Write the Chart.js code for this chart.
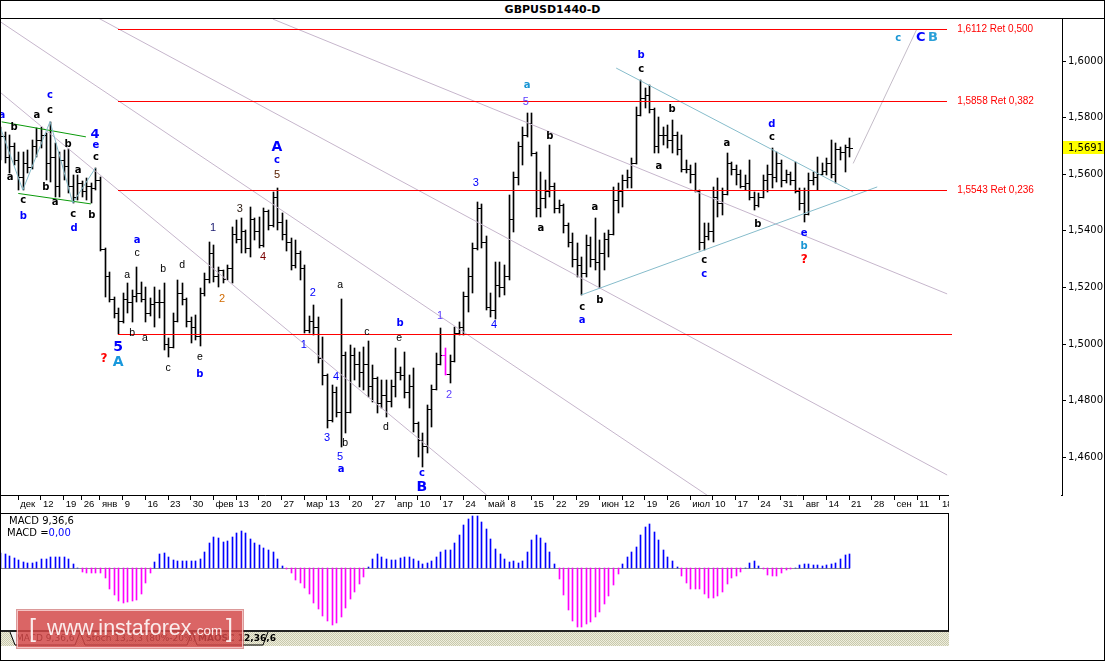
<!DOCTYPE html>
<html><head><meta charset="utf-8">
<script src="https://cdn.jsdelivr.net/npm/chart.js@4.4.0/dist/chart.umd.min.js"></script>
<style>
html,body{margin:0;padding:0;background:#fff;}
#root{position:relative;width:1105px;height:661px;overflow:hidden;background:#fff;}
.abs{position:absolute;}
#frame{left:0;top:0;width:1105px;height:661px;box-sizing:border-box;border:1px solid #000;pointer-events:none;z-index:30;}
#title{left:0;top:1px;width:1105px;height:17px;text-align:center;font:bold 11px "DejaVu Sans";line-height:17px;color:#000;}
#sep{left:0;top:18px;width:1105px;height:1px;background:#000;}
#main{left:0;top:19px;}
#mask{left:949px;top:495px;width:112px;height:18px;background:#fff;z-index:5;}
#macd{left:0;top:513px;}
#macdBox{left:0;top:513px;width:949px;height:119px;box-sizing:border-box;border-top:1px solid #000;border-right:1px solid #000;border-bottom:2px solid #222;pointer-events:none;z-index:6;}
.mtxt{font:10px "DejaVu Sans";color:#000;white-space:nowrap;z-index:7;}
#tabs{left:1px;top:632px;width:948px;height:14px;background:repeating-conic-gradient(#c9c9ad 0 25%,#eeeedd 0 50%) 0 0/2px 2px;z-index:6;}
.tab{font:9px "DejaVu Sans";color:#000;white-space:nowrap;top:1px;}
#wm{left:17px;top:610px;width:226px;height:38px;box-sizing:border-box;background:rgba(211,72,72,0.84);border:1px solid rgba(255,235,235,0.7);box-shadow:0 0 0 1px rgba(190,70,70,0.55);z-index:10;color:#fbecec;font-family:"Liberation Sans",sans-serif;white-space:nowrap;}
</style></head>
<body><div id="root">
<div id="title" class="abs">GBPUSD1440-D</div>
<div id="sep" class="abs"></div>
<canvas id="main" class="abs" width="1105" height="494"></canvas>
<div id="mask" class="abs"></div>
<canvas id="macd" class="abs" width="949" height="117"></canvas>
<div id="macdBox" class="abs"></div>
<div class="abs mtxt" style="left:9px;top:515px;">MACD 9,36,6</div>
<div class="abs mtxt" style="left:7px;top:527px;">MACD =<span style="color:#0000ff">0,00</span></div>
<div id="tabs" class="abs">
  <svg width="948" height="14" style="position:absolute;left:0;top:0">
    <polyline points="9,0 14,13 74,13 79,0" fill="#f4f4f4" stroke="#000" stroke-width="1"/>
    <polyline points="79,0 84,13 186,13 191,0" fill="none" stroke="#000" stroke-width="1"/>
    <polyline points="191,0 196,13 262,13 267,0" fill="none" stroke="#000" stroke-width="1"/>
  </svg>
  <div class="abs tab" style="left:15px;">MACD 9,36,6</div>
  <div class="abs tab" style="left:85px;">Stoch 13,3,3 (80%-20%)</div>
  <div class="abs tab" style="left:197px;font-weight:bold;">MAOSC 12,36,6</div>
</div>
<div id="wm" class="abs">
  <span class="abs" style="left:11px;top:3px;font-size:25px;font-weight:300;">[</span>
  <span class="abs" style="left:29px;top:5px;font-size:21.5px;">www.instaforex</span>
  <span class="abs" style="left:175px;top:12px;font-size:13.5px;">.com</span>
  <span class="abs" style="left:208px;top:3px;font-size:25px;font-weight:300;">]</span>
</div>
<div id="frame" class="abs"></div>
</div>
<script>
// ---------------- DATA ----------------
const open = [
1.5700,1.5735,1.5660,1.5700,1.5650,1.5590,1.5640,1.5625,1.5700,1.5720,
1.5740,1.5640,1.5660,1.5560,1.5650,1.5630,1.5560,1.5520,1.5570,1.5540,
1.5560,1.5550,1.5580,1.5335,1.5240,1.5160,1.5110,1.5080,1.5160,1.5150,
1.5170,1.5180,1.5160,1.5110,1.5140,1.5150,1.5150,1.5000,1.4990,1.5080,
1.5180,1.5160,1.5080,1.5060,1.5030,1.5180,1.5230,1.5320,1.5240,1.5260,
1.5230,1.5270,1.5390,1.5370,1.5400,1.5340,1.5440,1.5400,1.5350,1.5470,
1.5420,1.5520,1.5430,1.5390,1.5360,1.5280,1.5320,1.5270,1.5050,1.5080,
1.5060,1.4950,1.4890,1.4730,1.4830,1.4760,1.4960,1.4760,1.4960,1.4930,
1.4900,1.4930,1.4850,1.4880,1.4790,1.4820,1.4800,1.4850,1.4900,1.4890,
1.4830,1.4850,1.4720,1.4660,1.4640,1.4770,1.4840,1.4930,1.4960,1.4895,
1.4940,1.5040,1.5060,1.5170,1.5240,1.5340,1.5480,1.5360,1.5130,1.5120,
1.5210,1.5200,1.5240,1.5440,1.5590,1.5700,1.5740,1.5780,1.5675,1.5480,
1.5515,1.5540,1.5560,1.5480,1.5490,1.5420,1.5360,1.5300,1.5280,1.5250,
1.5350,1.5300,1.5290,1.5320,1.5370,1.5390,1.5510,1.5540,1.5580,1.5590,
1.5640,1.5810,1.5870,1.5880,1.5830,1.5700,1.5740,1.5740,1.5720,1.5740,
1.5690,1.5620,1.5620,1.5600,1.5540,1.5360,1.5380,1.5400,1.5520,1.5500,
1.5530,1.5640,1.5620,1.5600,1.5560,1.5570,1.5520,1.5490,1.5520,1.5580,
1.5600,1.5590,1.5640,1.5580,1.5600,1.5580,1.5540,1.5500,1.5460,1.5580,
1.5590,1.5600,1.5610,1.5640,1.5600,1.5690,1.5680,1.5695];
const high = [
1.5767,1.5749,1.5738,1.5710,1.5678,1.5678,1.5685,1.5721,1.5763,1.5767,
1.5745,1.5786,1.5710,1.5678,1.5685,1.5690,1.5597,1.5597,1.5575,1.5587,
1.5569,1.5622,1.5590,1.5340,1.5254,1.5165,1.5127,1.5180,1.5215,1.5191,
1.5272,1.5219,1.5201,1.5162,1.5201,1.5191,1.5216,1.5021,1.5110,1.5226,
1.5216,1.5162,1.5095,1.5102,1.5198,1.5250,1.5360,1.5350,1.5272,1.5261,
1.5279,1.5413,1.5438,1.5445,1.5403,1.5484,1.5445,1.5449,1.5480,1.5473,
1.5537,1.5553,1.5463,1.5438,1.5374,1.5367,1.5330,1.5280,1.5100,1.5138,
1.5095,1.5025,1.4895,1.4855,1.4848,1.5160,1.4970,1.4996,1.4986,1.4972,
1.4990,1.5010,1.4926,1.4885,1.4873,1.4873,1.4873,1.4986,1.4919,1.4972,
1.4890,1.4915,1.4724,1.4685,1.4784,1.4855,1.4968,1.5056,1.4986,1.4961,
1.5060,1.5078,1.5184,1.5268,1.5357,1.5502,1.5495,1.5380,1.5180,1.5290,
1.5290,1.5279,1.5527,1.5608,1.5714,1.5767,1.5816,1.5816,1.5680,1.5608,
1.5580,1.5703,1.5570,1.5509,1.5495,1.5427,1.5392,1.5357,1.5307,1.5385,
1.5378,1.5445,1.5367,1.5392,1.5403,1.5555,1.5569,1.5597,1.5615,1.5657,
1.5837,1.5933,1.5905,1.5915,1.5834,1.5802,1.5767,1.5774,1.5792,1.5749,
1.5739,1.5650,1.5633,1.5640,1.5545,1.5427,1.5427,1.5555,1.5587,1.5551,
1.5675,1.5643,1.5633,1.5615,1.5597,1.5650,1.5537,1.5533,1.5597,1.5633,
1.5693,1.5678,1.5650,1.5615,1.5608,1.5643,1.5551,1.5551,1.5604,1.5608,
1.5661,1.5640,1.5657,1.5721,1.5710,1.5696,1.5703,1.5728];
const low = [
1.5650,1.5639,1.5604,1.5632,1.5544,1.5544,1.5604,1.5620,1.5661,1.5693,
1.5579,1.5572,1.5519,1.5519,1.5579,1.5534,1.5498,1.5509,1.5519,1.5509,
1.5498,1.5545,1.5329,1.5166,1.5148,1.5092,1.5035,1.5075,1.5110,1.5078,
1.5148,1.5148,1.5078,1.5100,1.5060,1.5092,1.4979,1.4954,1.4985,1.5078,
1.5138,1.5060,1.5004,1.5014,1.4993,1.5170,1.5216,1.5219,1.5201,1.5216,
1.5225,1.5216,1.5357,1.5322,1.5322,1.5307,1.5367,1.5340,1.5343,1.5403,
1.5415,1.5403,1.5367,1.5330,1.5261,1.5268,1.5226,1.5039,1.5039,1.5032,
1.4933,1.4855,1.4703,1.4725,1.4742,1.4636,1.4686,1.4756,1.4873,1.4848,
1.4837,1.4813,1.4795,1.4756,1.4774,1.4742,1.4777,1.4813,1.4873,1.4809,
1.4774,1.4689,1.4600,1.4567,1.4615,1.4706,1.4837,1.4925,1.4890,1.4862,
1.4935,1.5032,1.5032,1.5113,1.5180,1.5332,1.5340,1.5120,1.5095,1.5090,
1.5166,1.5173,1.5226,1.5396,1.5562,1.5633,1.5731,1.5665,1.5449,1.5449,
1.5480,1.5520,1.5462,1.5462,1.5392,1.5343,1.5272,1.5237,1.5173,1.5237,
1.5272,1.5261,1.5198,1.5261,1.5307,1.5385,1.5462,1.5484,1.5551,1.5551,
1.5635,1.5805,1.5834,1.5816,1.5675,1.5675,1.5703,1.5693,1.5675,1.5668,
1.5608,1.5604,1.5569,1.5537,1.5332,1.5332,1.5367,1.5360,1.5449,1.5456,
1.5525,1.5597,1.5562,1.5551,1.5544,1.5509,1.5473,1.5485,1.5515,1.5537,
1.5551,1.5572,1.5555,1.5569,1.5562,1.5533,1.5473,1.5431,1.5455,1.5562,
1.5544,1.5597,1.5597,1.5587,1.5569,1.5650,1.5608,1.5661];
const close = [
1.5735,1.5660,1.5700,1.5650,1.5590,1.5640,1.5625,1.5700,1.5720,1.5740,
1.5640,1.5660,1.5560,1.5650,1.5630,1.5560,1.5520,1.5570,1.5540,1.5560,
1.5550,1.5580,1.5335,1.5240,1.5160,1.5110,1.5080,1.5160,1.5150,1.5170,
1.5180,1.5160,1.5110,1.5140,1.5150,1.5150,1.5000,1.4990,1.5080,1.5180,
1.5160,1.5080,1.5060,1.5030,1.5180,1.5230,1.5320,1.5240,1.5260,1.5230,
1.5270,1.5390,1.5370,1.5400,1.5340,1.5440,1.5400,1.5350,1.5470,1.5420,
1.5520,1.5430,1.5390,1.5360,1.5280,1.5320,1.5270,1.5050,1.5080,1.5060,
1.4950,1.4890,1.4730,1.4830,1.4760,1.4960,1.4760,1.4960,1.4930,1.4900,
1.4930,1.4850,1.4880,1.4790,1.4820,1.4800,1.4850,1.4900,1.4890,1.4830,
1.4850,1.4720,1.4660,1.4640,1.4770,1.4840,1.4930,1.4960,1.4895,1.4940,
1.5040,1.5060,1.5170,1.5240,1.5340,1.5480,1.5360,1.5130,1.5120,1.5210,
1.5200,1.5240,1.5440,1.5590,1.5700,1.5740,1.5780,1.5675,1.5480,1.5515,
1.5540,1.5560,1.5480,1.5490,1.5420,1.5360,1.5300,1.5280,1.5250,1.5350,
1.5300,1.5290,1.5320,1.5370,1.5390,1.5510,1.5540,1.5580,1.5590,1.5640,
1.5810,1.5870,1.5880,1.5830,1.5700,1.5740,1.5740,1.5720,1.5740,1.5690,
1.5620,1.5620,1.5600,1.5540,1.5360,1.5380,1.5400,1.5520,1.5500,1.5530,
1.5640,1.5620,1.5600,1.5560,1.5570,1.5520,1.5490,1.5520,1.5580,1.5600,
1.5590,1.5640,1.5580,1.5600,1.5580,1.5540,1.5500,1.5460,1.5580,1.5590,
1.5600,1.5610,1.5640,1.5600,1.5690,1.5680,1.5695,1.5691];
const macd = [
0.00150,0.00140,0.00123,0.00100,0.00083,0.00067,0.00057,0.00050,0.00067,0.00093,
0.00093,0.00117,0.00117,0.00117,0.00117,0.00093,0.00043,0.00005,-0.00033,-0.00043,
-0.00050,-0.00043,-0.00050,-0.00100,-0.00207,-0.00267,-0.00323,-0.00343,-0.00333,-0.00323,
-0.00317,-0.00257,-0.00150,-0.00043,0.00067,0.00143,0.00157,0.00110,0.00083,0.00073,
0.00073,0.00073,0.00073,0.00073,0.00093,0.00160,0.00257,0.00313,0.00307,0.00267,
0.00277,0.00310,0.00350,0.00373,0.00350,0.00290,0.00250,0.00233,0.00207,0.00183,
0.00167,0.00093,0.00023,-0.00010,-0.00050,-0.00117,-0.00150,-0.00193,-0.00260,-0.00350,
-0.00407,-0.00477,-0.00527,-0.00567,-0.00550,-0.00483,-0.00393,-0.00310,-0.00233,-0.00157,
-0.00083,0.00017,0.00093,0.00143,0.00117,0.00093,0.00083,0.00083,0.00100,0.00110,
0.00110,0.00093,0.00073,0.00043,0.00050,0.00073,0.00117,0.00160,0.00183,0.00183,
0.00250,0.00333,0.00433,0.00493,0.00520,0.00523,0.00467,0.00393,0.00293,0.00193,
0.00143,0.00093,0.00067,0.00073,0.00057,0.00073,0.00167,0.00283,0.00333,0.00307,
0.00257,0.00167,0.00043,-0.00110,-0.00267,-0.00417,-0.00527,-0.00583,-0.00583,-0.00557,
-0.00533,-0.00483,-0.00433,-0.00357,-0.00277,-0.00167,-0.00057,0.00043,0.00110,0.00160,
0.00210,0.00333,0.00410,0.00443,0.00360,0.00283,0.00183,0.00110,0.00073,0.00017,
-0.00077,-0.00150,-0.00210,-0.00210,-0.00210,-0.00257,-0.00293,-0.00293,-0.00277,-0.00233,
-0.00157,-0.00100,-0.00077,-0.00033,0.00007,0.00057,0.00073,0.00023,-0.00007,-0.00067,
-0.00077,-0.00077,-0.00043,-0.00017,-0.00003,0.00002,0.00033,0.00043,0.00043,0.00033,
0.00033,0.00023,0.00033,0.00043,0.00057,0.00093,0.00133,0.00143];
// Friday bar indices used as time-axis ticks and their labels
const tickIdx = [4,9,14,18,22,27,32,37,42,47,52,57,62,67,72,77,82,87,92,97,102,107,112,117,122,127,132,137,142,147,152,157,162,167,172,177,182,187,192,197,202,207];
const tickLabels = ["дек","12","19","26","янв","9","16","23","30","фев","13","20","27","мар","13","20","27","апр","10","17","24","май","8","15","22","29","июн","12","19","26","июл","10","17","24","31","авг","14","21","28","сен","11","18"];
const priceTicks = [1.46,1.48,1.50,1.52,1.54,1.56,1.58,1.60];
const retLevels = [1.6112,1.5858,1.5543];
const retLabels = ["1,6112 Ret 0,500","1,5858 Ret 0,382","1,5543 Ret 0,236"];
const baseLevel = 1.5035;

// ---------------- ANNOTATIONS (data coords: bar index, price) ----------------
const grayLines = [[60.1,1.6148,208.6,1.5177],[21.6,1.6152,208.6,1.4537],[-1,1.6150,155.7,1.4466],[-1,1.5903,107.2,1.4466]];
const greenLines = [[0.35,1.5785,18.9,1.5732],[4,1.5532,20,1.5495]];
const tealLines = [[135.7,1.5975,187.9,1.5537],[127.95,1.5173,193.2,1.5555]];
const zigzag = [[0,'H'],[5,'L'],[11,'H'],[16,'L'],[21,'H']];
const projection = [187.9,1.5638,201.9,1.6112];
const levelSpan = {from:26, to:208.6, baseTo:209.6, labelAt:210.8};
const highlightBar = 98;
const labels = [
[0.4,1.5809,'a','bl'],[3.1,1.5767,'b','k'],[2.2,1.5590,'a','k'],[-0.4,1.5544,'5','k'],[-0.4,1.5463,'3','bl'],
[5.1,1.5509,'c','k'],[5.1,1.5452,'b','bl'],[11.0,1.5880,'c','bl'],[11.0,1.5827,'c','k'],[8.1,1.5806,'a','k'],
[10.1,1.5555,'b','k'],[12.1,1.5502,'a','k'],[15.0,1.5707,'b','k'],[17.2,1.5615,'a','k'],[16.1,1.5459,'c','k'],
[16.3,1.5410,'d','bl'],[20.2,1.5456,'b','k'],[21.1,1.5661,'c','k'],[21.1,1.5700,'e','bl'],[20.9,1.5739,'4','BLm'],
[30.2,1.5367,'a','bl'],[46.9,1.5410,'1','nv'],[52.8,1.5477,'3','dk'],[61.0,1.5597,'5','br'],[61.0,1.5650,'c','bl'],
[61.0,1.5696,'A','BL'],[30.2,1.5322,'c','kr'],[28.0,1.5244,'a','kr'],[35.9,1.5265,'b','kr'],[40.1,1.5279,'d','kr'],
[48.9,1.5159,'2','or'],[57.9,1.5307,'4','dr'],[29.1,1.5039,'b','kr'],[31.9,1.5021,'a','kr'],[26.0,1.4989,'5','BL'],
[26.0,1.4936,'A','TL'],[22.9,1.4947,'?','q'],[37.0,1.4915,'c','kr'],[44.0,1.4954,'e','kr'],[44.0,1.4894,'b','bl'],
[68.9,1.5180,'2','n'],[66.9,1.4996,'1','n'],[74.9,1.5208,'a','kr'],[72.0,1.4668,'3','n'],[74.0,1.4883,'4','n'],
[74.9,1.4601,'5','n'],[75.1,1.4558,'a','bl'],[76.0,1.4650,'b','kr'],[80.8,1.5042,'c','kr'],[85.0,1.4707,'d','kr'],
[87.9,1.5021,'e','kr'],[88.1,1.5074,'b','bl'],[92.9,1.4541,'c','bl'],[92.9,1.4495,'B','BL'],[96.9,1.5099,'1','np'],
[98.9,1.4820,'2','np'],[108.8,1.5067,'4','n'],[128.2,1.5131,'c','k'],[128.2,1.5085,'a','bl'],[132.1,1.5155,'b','k'],
[155.1,1.5297,'c','k'],[155.1,1.5247,'c','bl'],[104.8,1.5569,'3','n'],[115.8,1.5855,'5','np'],[116.1,1.5912,'a','tl'],
[121.1,1.5735,'b','k'],[119.1,1.5410,'a','k'],[131.0,1.5481,'a','k'],[141.2,1.6021,'b','bl'],[141.2,1.5972,'c','k'],
[148.0,1.5830,'b','k'],[145.1,1.5629,'a','k'],[160.1,1.5710,'a','k'],[170.0,1.5777,'d','bl'],[170.0,1.5731,'c','k'],
[166.9,1.5424,'b','k'],[177.1,1.5392,'e','bl'],[177.1,1.5346,'b','tl'],[177.1,1.5297,'?','q'],[197.8,1.6081,'c','tl'],
[202.8,1.6081,'C','BLs'],[205.5,1.6081,'B','TLs']];
const labelStyles = {
  k:['bold 10px "DejaVu Sans"','#000'], kr:['10.5px "Liberation Sans"','#000'],
  bl:['bold 10px "DejaVu Sans"','#0000ff'], tl:['bold 10px "DejaVu Sans"','#1a96d4'],
  BL:['bold 14px "DejaVu Sans"','#0000ff'], BLm:['bold 13px "DejaVu Sans"','#0000ff'],
  BLs:['bold 13px "DejaVu Sans"','#0000ff'], TL:['bold 14px "DejaVu Sans"','#1898dc'], TLs:['bold 13px "DejaVu Sans"','#2aa0d8'],
  n:['11px "Liberation Sans"','#0000ff'], np:['11px "Liberation Sans"','#5a3cff'],
  nv:['11px "Liberation Sans"','#1a1a70'], dk:['11px "Liberation Sans"','#2a1a10'], br:['11px "Liberation Sans"','#5a2000'],
  or:['11px "Liberation Sans"','#d06a00'], dr:['11px "Liberation Sans"','#7a0000'],
  q:['bold 12px "DejaVu Sans"','#ff0000']
};

// ---------------- LAYOUT ----------------
const X0 = 0.1, PXB = 4.54;           // page x of bar 0, px per bar
const Y_REF = 61, P_REF = 1.6, PXU = 2830; // page y of 1.6000, px per price unit
const MAIN_TOP = 19, PLOT_BOTTOM = 495, AXIS_RIGHT = 1062;
function xRange(w){ const mn = -X0/PXB; return {min: mn, max: mn + w/PXB}; }
function pAt(y){ return P_REF - (y - Y_REF)/PXU; }

Chart.defaults.font.family = '"DejaVu Sans", sans-serif';
Chart.defaults.color = '#000';

function roundBars(chart){
  const meta = chart.getDatasetMeta(0);
  meta.data.forEach(el => { el.x = Math.round(el.x) + 0.5; el.y = Math.round(el.y); el.base = Math.round(el.base); });
}

const ohlcPlugin = {
  id: 'ohlc',
  afterDatasetsUpdate(chart){ roundBars(chart); },
  afterDatasetsDraw(chart){
    const ctx = chart.ctx, ys = chart.scales.y, xs = chart.scales.x, ca = chart.chartArea;
    const meta = chart.getDatasetMeta(0);
    ctx.save();
    ctx.beginPath(); ctx.rect(ca.left, ca.top, ca.right-ca.left, ca.bottom-ca.top); ctx.clip();
    meta.data.forEach((el, k) => {
      const col = el.x - 0.5;
      ctx.fillStyle = k === highlightBar ? '#ff00ff' : '#000';
      ctx.fillRect(col-3, Math.round(ys.getPixelForValue(open[k])), 3, 1);
      ctx.fillRect(col+1, Math.round(ys.getPixelForValue(close[k])), 3, 1);
    });
    const seg = (x1,p1,x2,p2,color) => {
      ctx.strokeStyle = color; ctx.lineWidth = 1; ctx.beginPath();
      ctx.moveTo(xs.getPixelForValue(x1), ys.getPixelForValue(p1));
      ctx.lineTo(xs.getPixelForValue(x2), ys.getPixelForValue(p2)); ctx.stroke();
    };
    grayLines.forEach(l => seg(l[0],l[1],l[2],l[3],'#c6b6cc'));
    tealLines.forEach(l => seg(l[0],l[1],l[2],l[3],'#86bccb'));
    greenLines.forEach(l => seg(l[0],l[1],l[2],l[3],'#0a9a0a'));
    seg(projection[0],projection[1],projection[2],projection[3],'#c4bcc8');
    ctx.strokeStyle = '#86bccb'; ctx.beginPath();
    zigzag.forEach((z,j) => {
      const px = xs.getPixelForValue(z[0]), py = ys.getPixelForValue(z[1]==='H' ? high[z[0]] : low[z[0]]);
      if (j===0) ctx.moveTo(px,py); else ctx.lineTo(px,py);
    });
    ctx.stroke();
    // red retracement levels (crisp 1px rows)
    const hline = (p, a, b) => {
      const y = Math.round(ys.getPixelForValue(p));
      const xa = Math.round(xs.getPixelForValue(a)), xb = Math.round(xs.getPixelForValue(b));
      ctx.fillStyle = '#ff0000'; ctx.fillRect(xa, y, xb - xa, 1);
    };
    retLevels.forEach(p => hline(p, levelSpan.from, levelSpan.to));
    hline(baseLevel, levelSpan.from, levelSpan.baseTo);
    ctx.fillStyle = '#ff0000'; ctx.font = '10px "Liberation Sans"'; ctx.textAlign = 'left'; ctx.textBaseline = 'middle';
    retLevels.forEach((p,j) => ctx.fillText(retLabels[j], xs.getPixelForValue(levelSpan.labelAt), ys.getPixelForValue(p)));
    ctx.textAlign = 'center';
    labels.forEach(l => {
      const st = labelStyles[l[3]];
      ctx.font = st[0]; ctx.fillStyle = st[1];
      ctx.fillText(l[2], xs.getPixelForValue(l[0]), ys.getPixelForValue(l[1]));
    });
    ctx.restore();
  },
  afterDraw(chart){
    const ctx = chart.ctx, ys = chart.scales.y, ca = chart.chartArea;
    const last = close[close.length-1];
    const y = Math.round(ys.getPixelForValue(last));
    ctx.save();
    ctx.fillStyle = '#ffff00';
    ctx.fillRect(ca.right+1, y-7, 41, 13);
    ctx.fillStyle = '#000'; ctx.font = '10px "DejaVu Sans"'; ctx.textAlign='left'; ctx.textBaseline='middle';
    ctx.fillText(last.toFixed(4).replace('.',','), ca.right+6, y);
    ctx.restore();
  }
};

const xr = xRange(AXIS_RIGHT);
new Chart(document.getElementById('main'), {
  type: 'bar',
  data: { datasets: [{
    data: high.map((h,i) => ({x: i, y: [low[i], h]})),
    backgroundColor: high.map((h,i) => i === highlightBar ? '#ff00ff' : '#000'),
    borderWidth: 0, borderSkipped: false, barThickness: 1
  }]},
  options: {
    responsive: false, animation: false, events: [],
    layout: { padding: 0, autoPadding: false },
    plugins: { legend: {display:false}, tooltip: {enabled:false} },
    scales: {
      x: { type:'linear', min: xr.min, max: xr.max, offset:false,
        afterBuildTicks: s => { s.ticks = tickIdx.map(v => ({value: v})); },
        afterFit: s => { s.height = 18; s.paddingLeft = 0; s.paddingRight = 0; s.paddingTop = 0; s.paddingBottom = 0; },
        grid: { display:true, drawOnChartArea:false, drawTicks:true, tickLength:5, color:'#000', offset:false },
        border: { display:true, color:'#000', width:1 },
        ticks: { autoSkip:false, maxRotation:0, minRotation:0, align:'start', labelOffset:2, padding:-1,
          color:'#000', font:{family:'"Liberation Sans"', size:9.5},
          callback: (v, idx) => tickLabels[idx] }
      },
      y: { type:'linear', position:'right', min: pAt(PLOT_BOTTOM), max: pAt(MAIN_TOP),
        afterBuildTicks: s => { s.ticks = priceTicks.map(v => ({value: v})); },
        afterFit: s => { s.width = 1105 - AXIS_RIGHT; s.paddingTop = 0; s.paddingBottom = 0; s.paddingLeft = 0; s.paddingRight = 0; },
        grid: { display:true, drawOnChartArea:false, drawTicks:true, tickLength:4, color:'#000' },
        border: { display:true, color:'#000', width:1 },
        ticks: { padding:2, color:'#000', font:{family:'"DejaVu Sans"', size:10},
          callback: v => v.toFixed(4).replace('.', ',') }
      }
    }
  },
  plugins: [ohlcPlugin]
});

// ---------------- MACD ----------------
const macdPlugin = {
  id: 'macdRound',
  afterDatasetsUpdate(chart){ roundBars(chart); },
  beforeDatasetsDraw(chart){
    const ctx = chart.ctx, xs = chart.scales.x, ys = chart.scales.y;
    const x1 = Math.round(xs.getPixelForValue(0)), x2 = Math.round(xs.getPixelForValue(macd.length-1));
    ctx.save(); ctx.fillStyle = '#8c8c8c';
    ctx.fillRect(x1, Math.round(ys.getPixelForValue(0)), x2 - x1 + 1, 1);
    ctx.restore();
  }
};
const mxr = xRange(949);
new Chart(document.getElementById('macd'), {
  type: 'bar',
  data: { datasets: [{
    data: macd.map((v,i) => ({x: i, y: v})),
    backgroundColor: macd.map(v => v >= 0 ? '#0000ff' : '#ff00ff'),
    borderWidth: 0, borderSkipped: false, barThickness: 1
  }]},
  options: {
    responsive: false, animation: false, events: [],
    layout: { padding: 0, autoPadding: false },
    plugins: { legend: {display:false}, tooltip: {enabled:false} },
    scales: {
      x: { type:'linear', display:false, min: mxr.min, max: mxr.max, offset:false },
      y: { type:'linear', display:false, min: -0.00617, max: 0.00553 }
    }
  },
  plugins: [macdPlugin]
});
</script>
</body></html>
